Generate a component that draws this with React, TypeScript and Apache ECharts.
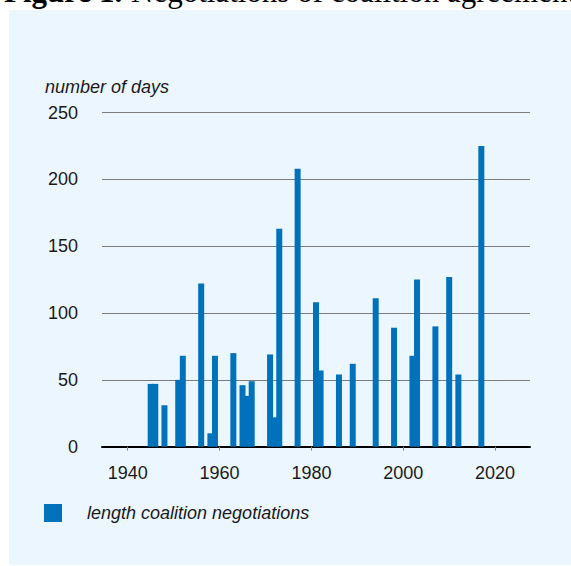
import React, { useEffect, useRef } from "react";
import * as echarts from "echarts";

const years = [1945, 1946, 1948, 1951, 1952, 1956, 1958, 1959, 1963, 1965, 1966, 1967, 1971, 1972, 1973, 1977, 1981, 1982, 1986, 1989, 1994, 1998, 2002, 2003, 2007, 2010, 2012, 2017];
const days = [47, 47, 31, 50, 68, 122, 10, 68, 70, 46, 38, 49, 69, 22, 163, 208, 108, 57, 54, 62, 111, 89, 68, 125, 90, 127, 54, 225];
const xTicks = [1940, 1960, 1980, 2000, 2020];
const seriesName = "length coalition negotiations";
const yAxisTitle = "number of days";
const titleBold = "Figure 1.";
const titleRest = "Negotiations of coalition agreement";

const FONT = '"Liberation Sans", Arial, Helvetica, sans-serif';
const BAR = "#0071bb";
const TEXT = "#1a1a1a";

export default function App() {
  const ref = useRef<HTMLDivElement>(null);
  useEffect(() => {
    if (!ref.current) return;
    const chart = echarts.init(ref.current, null, { renderer: "svg" });
    const xMin = 1934.4;
    const xMax = 2027.6;
    chart.setOption({
      animation: false,
      backgroundColor: "#ffffff",
      graphic: [
        { type: "rect", z: -10, shape: { x: 9, y: 10, width: 562, height: 555 }, style: { fill: "#ecf6fe" } },
        { type: "text", x: 4, y: -9, style: { text: titleBold, font: 'bold 31px "Liberation Serif", serif', fill: "#000", verticalAlign: "middle", align: "left" } },
        { type: "text", x: 131, y: -9, style: { text: titleRest, font: '31px "Liberation Serif", serif', fill: "#000", verticalAlign: "middle", align: "left" } },
        { type: "text", x: 45, y: 87, style: { text: yAxisTitle, font: `italic 18px ${FONT}`, fill: TEXT, verticalAlign: "middle", align: "left" } },
      ],
      grid: { left: 102, right: 41, top: 112.5, bottom: 119.3, containLabel: false },
      legend: {
        show: true,
        left: 39,
        top: 499,
        itemWidth: 18,
        itemHeight: 18,
        icon: "rect",
        data: [seriesName],
        textStyle: { fontFamily: FONT, fontStyle: "italic", fontSize: 18, color: TEXT, padding: [0, 0, 0, 20] },
      },
      xAxis: [
        {
          type: "value",
          min: xMin,
          max: xMax,
          position: "bottom",
          axisLine: { show: true, onZero: false, lineStyle: { color: "#000", width: 2 } },
          axisTick: { show: false },
          splitLine: { show: false },
          axisLabel: { customValues: xTicks, margin: 17, fontFamily: FONT, fontSize: 18, color: TEXT, formatter: (v: number) => String(v) },
        },
        {
          type: "value",
          min: xMin,
          max: xMax,
          position: "bottom",
          offset: 13,
          axisLine: { show: false },
          axisTick: { show: true, customValues: xTicks, length: 4, lineStyle: { color: "#888", width: 1 } },
          splitLine: { show: false },
          axisLabel: { show: false },
        },
      ],
      yAxis: {
        type: "value",
        min: 0,
        max: 250,
        interval: 50,
        axisLine: { show: false },
        axisTick: { show: false },
        splitLine: { show: true, lineStyle: { color: "#7c7c7c", width: 1 } },
        axisLabel: { margin: 24, fontFamily: FONT, fontSize: 18, color: TEXT },
      },
      series: [
        {
          name: seriesName,
          type: "bar",
          xAxisIndex: 0,
          barWidth: 6,
          itemStyle: { color: BAR },
          data: years.map((y, i) => [y, days[i]]),
        },
      ],
    });
    return () => chart.dispose();
  }, []);
  return <div ref={ref} style={{ position: "fixed", left: 0, top: 0, width: 571, height: 566 }} />;
}
